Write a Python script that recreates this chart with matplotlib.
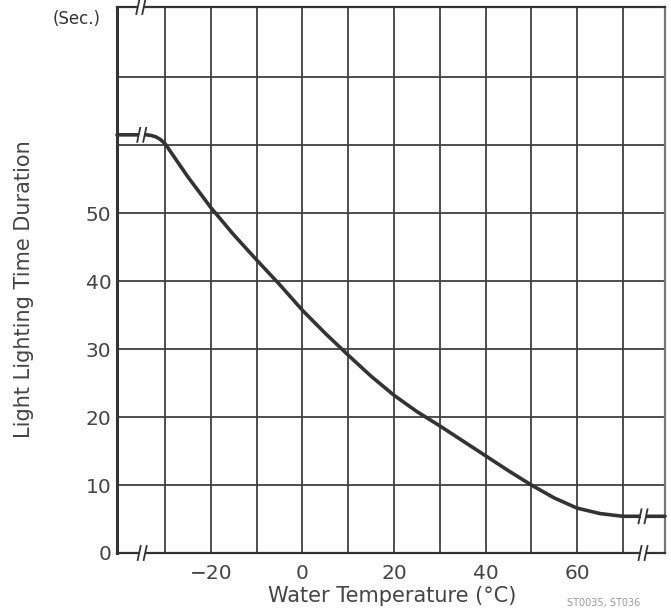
import matplotlib
matplotlib.use("Agg")
import matplotlib.pyplot as plt
from matplotlib.patches import Rectangle

plt.rcParams['font.family'] = ['DejaVu Sans']

# ---- data ----
temp_c = [-40.5, -35, -34, -33, -32, -31, -30, -25, -20, -15, -10, -5, 0, 5, 10,
          15, 20, 25, 30, 35, 40, 45, 50, 55, 60, 65, 70, 79.2]
duration_s = [61.5, 61.5, 61.5, 61.4, 61.2, 60.8, 60.2, 55.3, 50.8, 46.8, 43.1, 39.5,
              35.7, 32.3, 29.1, 26.0, 23.2, 20.8, 18.7, 16.5, 14.3, 12.1, 10.0, 8.1,
              6.6, 5.8, 5.4, 5.4]
x_ticks = [-20, 0, 20, 40, 60]
y_ticks = [0, 10, 20, 30, 40, 50]
x_grid = [-30, -20, -10, 0, 10, 20, 30, 40, 50, 60, 70]
y_grid = [10, 20, 30, 40, 50, 60, 70]

XMIN, XMAX, YMIN, YMAX = -40.5, 79.2, 0, 80.3

fig = plt.figure(figsize=(6.71, 6.11), dpi=100)
W, H = 671, 611
L, R, T, B = 117, 665, 7, 553
ax = fig.add_axes([L / W, (H - B) / H, (R - L) / W, (B - T) / H])
ax.set_xlim(XMIN, XMAX)
ax.set_ylim(YMIN, YMAX)

gc = '#404040'
for gx in x_grid:
    ax.axvline(gx, color=gc, lw=1.3, zorder=1)
for gy in y_grid:
    ax.axhline(gy, color=gc, lw=1.3, zorder=1)

ax.plot(temp_c, duration_s, color='#333333', lw=2.6, solid_capstyle='round',
        solid_joinstyle='round', zorder=3, clip_on=False)

for side, s in ax.spines.items():
    s.set_color('#333333')
    s.set_linewidth(1.6)
ax.spines['left'].set_linewidth(2.2)
ax.spines['right'].set_color('#777777')

ax.set_xticks(x_ticks)
ax.set_xticklabels([str(v).replace('-', '\u2212') for v in x_ticks])
ax.set_yticks(y_ticks)
ax.tick_params(axis='both', length=0, labelsize=14.5, colors='#444444', pad=4)
ax.tick_params(axis='x', pad=8)

fig.text(392 / W, 1 - 596 / H, 'Water Temperature (\u00b0C)', fontsize=15,
         color='#444444', ha='center', va='center')
fig.text(24 / W, 1 - 289 / H, 'Light Lighting Time Duration', fontsize=15,
         color='#444444', ha='center', va='center', rotation=90)

fig.text(53 / W, 1 - 19 / H, '(Sec.)', fontsize=12, color='#333333', va='center', ha='left')
fig.text(567 / W, 1 - 608 / H, 'ST0035, ST036', fontsize=7, color='#999999', va='bottom', ha='left')

# break marks
pxx = (XMAX - XMIN) / (R - L)
pxy = (YMAX - YMIN) / (B - T)

def brk(x, y):
    ax.add_patch(Rectangle((x - 2.5 * pxx, y - 3 * pxy), 5 * pxx, 6 * pxy,
                           facecolor='white', edgecolor='none', zorder=5, clip_on=False))
    for off in (-3, 3):
        ax.plot([x + (off - 1.5) * pxx, x + (off + 1.5) * pxx],
                [y - 7 * pxy, y + 7 * pxy], color='#333333', lw=1.3,
                zorder=6, clip_on=False)

brk(-35.3, YMAX)
brk(-35.1, 61.5)
brk(-35.0, 0)
brk(74.4, 5.4)
brk(74.4, 0)

fig.savefig('out.png', dpi=100)
